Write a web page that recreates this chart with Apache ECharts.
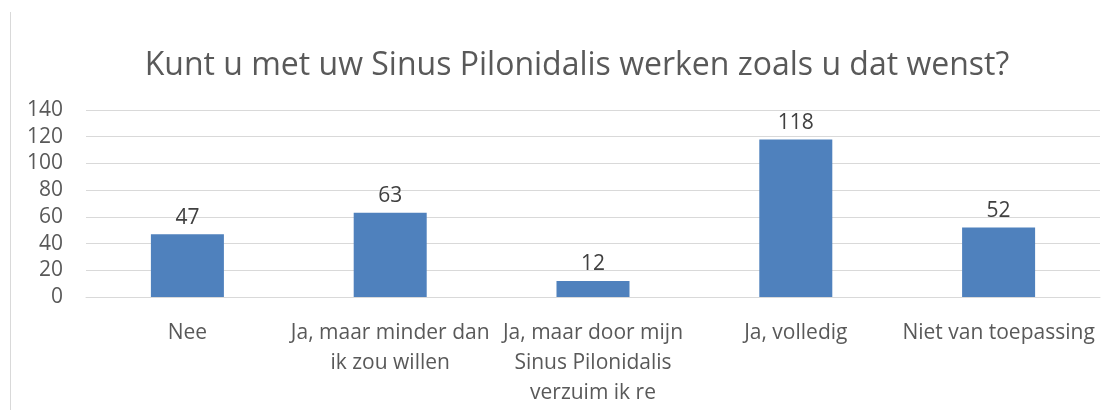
<!DOCTYPE html>
<html>
<head>
<meta charset="utf-8">
<script src="https://cdn.jsdelivr.net/npm/echarts@6/dist/echarts.min.js"></script>
<style>
  html, body { margin: 0; padding: 0; background: #fff; }
  #chart { width: 1117px; height: 410px; }
</style>
</head>
<body>
<div id="chart"></div>
<script>
var chartTitle = 'Kunt u met uw Sinus Pilonidalis werken zoals u dat wenst?';
var categories = [
  'Nee',
  'Ja, maar minder dan\nik zou willen',
  'Ja, maar door mijn\nSinus Pilonidalis\nverzuim ik re',
  'Ja, volledig',
  'Niet van toepassing'
];
var values = [47, 63, 12, 118, 52];
var yTicks = [0, 20, 40, 60, 80, 100, 120, 140];

var chart = echarts.init(document.getElementById('chart'));
chart.setOption({
  backgroundColor: '#fff',
  animation: false,
  textStyle: { fontFamily: 'Open Sans' },
  title: {
    text: chartTitle,
    left: 572,
    top: 45,
    textAlign: 'center',
    textStyle: { fontSize: 32, fontWeight: 'normal', color: '#595959', fontFamily: 'Open Sans' }
  },
  // chart border on the left
  graphic: [{
    type: 'line',
    shape: { x1: 10.5, y1: 12, x2: 10.5, y2: 410 },
    style: { stroke: '#d9d9d9', lineWidth: 1 }
  }],
  grid: { left: 86, right: 17, top: 110, bottom: 113, containLabel: false },
  xAxis: {
    type: 'category',
    data: categories,
    axisLine: { show: true, lineStyle: { color: '#d9d9d9', width: 1 } },
    axisTick: { show: false },
    axisLabel: {
      color: '#595959', fontSize: 21, lineHeight: 30, margin: 21,
      interval: 0, fontFamily: 'Open Sans'
    }
  },
  yAxis: {
    type: 'value',
    min: yTicks[0],
    max: yTicks[yTicks.length - 1],
    interval: 20,
    axisLine: { show: false },
    axisTick: { show: false },
    splitLine: { lineStyle: { color: '#d9d9d9', width: 1 } },
    axisLabel: { color: '#595959', fontSize: 21, margin: 23, fontFamily: 'Open Sans' }
  },
  series: [{
    type: 'bar',
    data: values,
    barWidth: '36%',
    itemStyle: { color: '#4f81bd' },
    label: {
      show: true, position: 'top', distance: 6,
      color: '#404040', fontSize: 21, fontFamily: 'Open Sans'
    }
  }]
});
</script>
</body>
</html>
